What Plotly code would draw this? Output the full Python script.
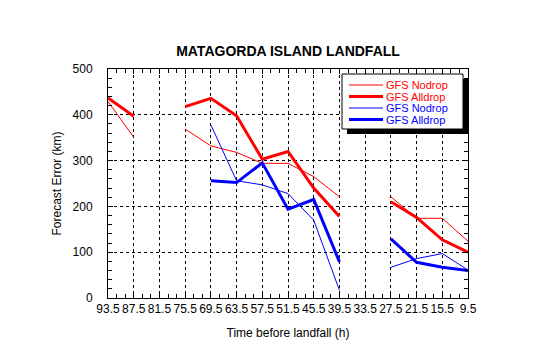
import plotly.graph_objects as go

# x positions: hours before landfall
hours = [93.5, 87.5, 81.5, 75.5, 69.5, 63.5, 57.5, 51.5, 45.5, 39.5, 33.5, 27.5, 21.5, 15.5, 9.5]
tick_labels = ["93.5", "87.5", "81.5", "75.5", "69.5", "63.5", "57.5", "51.5",
               "45.5", "39.5", "33.5", "27.5", "21.5", "15.5", "9.5"]

red_nodrop = [429, 351, None, 369, 332, 318, 294, 294, 265, 221, None, 221, 174, 174, 124]
red_alldrop = [437, 397, None, 418, 436, 398, 303, 320, 240, 178, None, 210, 176, 127, 100]
blue_nodrop = [None, None, None, None, 378, 256, 247, 228, 170, 17, None, 67, 86, 97, 61]
blue_alldrop = [None, None, None, None, 256, 252, 295, 194, 215, 79, None, 129, 78, 67, 60]

series_names = ["GFS Nodrop", "GFS Alldrop", "GFS Nodrop", "GFS Alldrop"]
series_colors = ["#ff0000", "#ff0000", "#0000ff", "#0000ff"]
series_widths = [1, 3, 1, 3]
series_values = [red_nodrop, red_alldrop, blue_nodrop, blue_alldrop]

FONT = "Liberation Sans, Arial, Helvetica, sans-serif"

fig = go.Figure()
for name, col, w, vals in zip(series_names, series_colors, series_widths, series_values):
    fig.add_trace(go.Scatter(x=hours, y=vals, mode="lines", name=name,
                             line=dict(color=col, width=w), connectgaps=False,
                             showlegend=False))

# plot-area geometry (pixels) for legend placement
L, R, T, B = 108, 468, 69, 298
W, H = 540, 344
def px(x):
    return (x - L) / (R - L)
def py(y):
    return (B - y) / (B - T)

shapes = []
# legend shadow
shapes.append(dict(type="rect", xref="paper", yref="paper",
                   x0=px(347), x1=px(468), y0=py(134), y1=py(79),
                   fillcolor="black", line=dict(width=0), layer="above"))
# legend box
shapes.append(dict(type="rect", xref="paper", yref="paper",
                   x0=px(342), x1=px(463), y0=py(129), y1=py(74),
                   fillcolor="white", line=dict(color="black", width=1), layer="above"))
rows = [85, 96.5, 108, 119.5]
annotations = []
for name, col, w, yy in zip(series_names, series_colors, series_widths, rows):
    shapes.append(dict(type="line", xref="paper", yref="paper",
                       x0=px(349), x1=px(383), y0=py(yy), y1=py(yy),
                       line=dict(color=col, width=w), layer="above"))
    annotations.append(dict(xref="paper", yref="paper", x=px(385), y=py(yy),
                            xanchor="left", yanchor="middle", showarrow=False,
                            text=name, borderpad=0,
                            font=dict(family=FONT, size=11, color=col)))

fig.update_layout(
    width=W, height=H,
    margin=dict(l=L, r=W - R, t=T, b=H - B),
    paper_bgcolor="white", plot_bgcolor="white",
    font=dict(family=FONT, size=12, color="black"),
    title=dict(text="<b>MATAGORDA ISLAND LANDFALL</b>", x=288 / W,
               xanchor="center", y=1 - 51 / H, yanchor="middle",
               font=dict(family=FONT, size=14, color="black")),
    shapes=shapes, annotations=annotations, showlegend=False,
)
fig.update_xaxes(
    range=[93.5, 9.5], tickmode="array", tickvals=hours, ticktext=tick_labels,
    ticks="inside", ticklen=5, tickcolor="black", showline=True, linecolor="black",
    linewidth=1, mirror="allticks", showgrid=True, gridcolor="black", griddash="dot",
    gridwidth=1, zeroline=False, tickfont=dict(size=12), automargin=False,
    minor=dict(tickmode="linear", tick0=9.5, dtick=2, ticks="inside", ticklen=4,
               tickcolor="black", showgrid=False),
    title=dict(text="Time before landfall (h)", standoff=13, font=dict(size=12)),
)
fig.update_yaxes(
    range=[0, 500], tickmode="linear", tick0=0, dtick=100,
    ticks="inside", ticklen=5, tickcolor="black", showline=True, linecolor="black",
    linewidth=1, mirror="allticks", showgrid=True, gridcolor="black", griddash="dot",
    gridwidth=1, zeroline=False, tickfont=dict(size=12), ticklabelstandoff=12,
    automargin=False,
    minor=dict(tickmode="linear", tick0=0, dtick=20, ticks="inside", ticklen=4,
               tickcolor="black", showgrid=False),
    title=dict(text="Forecast Error (km)", standoff=8, font=dict(size=12)),
)

fig.write_html("out.html")
